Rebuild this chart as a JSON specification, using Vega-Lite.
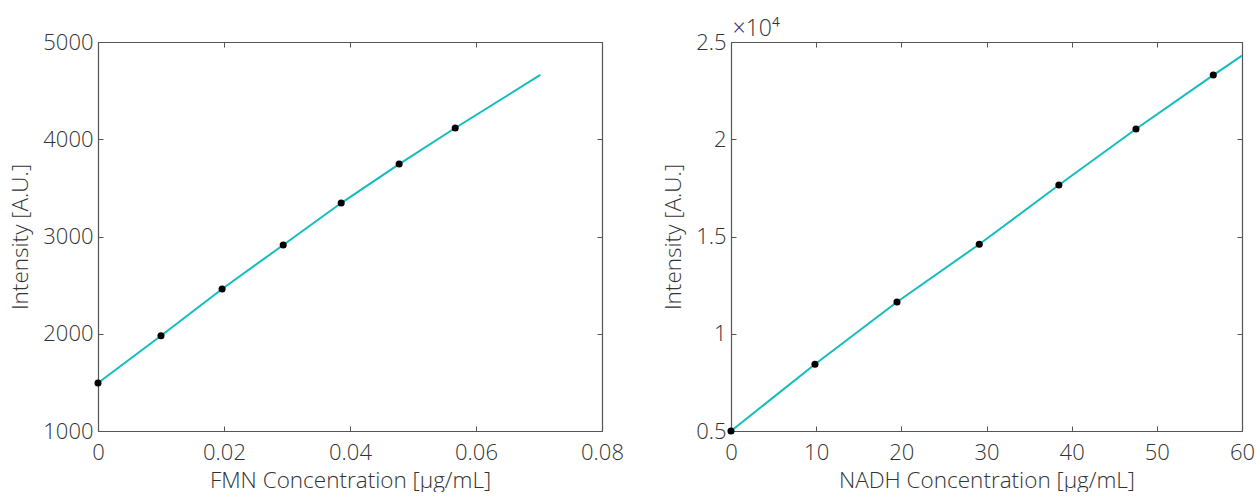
{
  "$schema": "https://vega.github.io/schema/vega-lite/v6.json",
  "padding": {"left": 9, "top": 17, "right": 0, "bottom": 0},
  "bounds": "flush",
  "spacing": 129,
  "background": "white",
  "datasets": {
    "fmn": [
      {"c": 0, "i": 1494},
      {"c": 0.0100, "i": 1980},
      {"c": 0.0197, "i": 2460},
      {"c": 0.0294, "i": 2913},
      {"c": 0.0386, "i": 3344},
      {"c": 0.0478, "i": 3745},
      {"c": 0.0567, "i": 4116}
    ],
    "fmnFit": [
      {"c": 0, "i": 1494},
      {"c": 0.0100, "i": 1980},
      {"c": 0.0197, "i": 2460},
      {"c": 0.0294, "i": 2913},
      {"c": 0.0386, "i": 3344},
      {"c": 0.0478, "i": 3745},
      {"c": 0.0567, "i": 4116},
      {"c": 0.0702, "i": 4661}
    ],
    "nadh": [
      {"c": 0, "i": 5000},
      {"c": 9.86, "i": 8430},
      {"c": 19.49, "i": 11630},
      {"c": 29.15, "i": 14600},
      {"c": 38.5, "i": 17650},
      {"c": 47.55, "i": 20530},
      {"c": 56.63, "i": 23300}
    ],
    "nadhFit": [
      {"c": 0, "i": 5000},
      {"c": 9.86, "i": 8430},
      {"c": 19.49, "i": 11630},
      {"c": 29.15, "i": 14600},
      {"c": 38.5, "i": 17650},
      {"c": 47.55, "i": 20530},
      {"c": 56.63, "i": 23300},
      {"c": 60, "i": 24300}
    ]
  },
  "hconcat": [
    {
      "width": 504,
      "height": 389,
      "layer": [
        {
          "data": {"name": "fmnFit"},
          "mark": {"type": "line", "color": "#14BDBD", "strokeWidth": 2},
          "encoding": {
            "x": {"field": "c", "type": "quantitative", "scale": {"domain": [0, 0.08], "nice": false, "zero": false},
              "axis": {"orient": "bottom", "values": [0, 0.02, 0.04, 0.06, 0.08], "labelExpr": "'' + datum.value", "labelPadding": 16, "title": "FMN Concentration [µg/mL]", "titlePadding": 6}},
            "y": {"field": "i", "type": "quantitative", "scale": {"domain": [1000, 5000], "nice": false, "zero": false},
              "axis": {"orient": "left", "values": [1000, 2000, 3000, 4000, 5000], "labelExpr": "'' + datum.value", "labelPadding": 10, "title": "Intensity [A.U.]", "titlePadding": 10}}
          }
        },
        {
          "data": {"name": "fmn"},
          "mark": {"type": "point", "filled": true, "color": "black", "size": 50, "opacity": 1},
          "encoding": {
            "x": {"field": "c", "type": "quantitative", "axis": {"orient": "top", "values": [0, 0.02, 0.04, 0.06, 0.08], "labels": false, "title": null}},
            "y": {"field": "i", "type": "quantitative", "axis": {"orient": "right", "values": [1000, 2000, 3000, 4000, 5000], "labels": false, "title": null}}
          }
        }
      ],
      "resolve": {"axis": {"x": "independent", "y": "independent"}}
    },
    {
      "width": 511,
      "height": 389,
      "layer": [
        {
          "data": {"name": "nadhFit"},
          "mark": {"type": "line", "color": "#14BDBD", "strokeWidth": 2},
          "encoding": {
            "x": {"field": "c", "type": "quantitative", "scale": {"domain": [0, 60], "nice": false, "zero": false},
              "axis": {"orient": "bottom", "values": [0, 10, 20, 30, 40, 50, 60], "labelPadding": 16, "title": "NADH Concentration [µg/mL]", "titlePadding": 6}},
            "y": {"field": "i", "type": "quantitative", "scale": {"domain": [5000, 25000], "nice": false, "zero": false},
              "axis": {"orient": "left", "values": [5000, 10000, 15000, 20000, 25000], "labelExpr": "'' + datum.value / 10000", "labelPadding": 10, "title": "Intensity [A.U.]", "titlePadding": 10}}
          }
        },
        {
          "data": {"name": "nadh"},
          "mark": {"type": "point", "filled": true, "color": "black", "size": 50, "opacity": 1},
          "encoding": {
            "x": {"field": "c", "type": "quantitative", "axis": {"orient": "top", "values": [0, 10, 20, 30, 40, 50, 60], "labels": false, "title": "×10⁴", "titleFontSize": 23, "titleAnchor": "start", "titleAlign": "left", "titleBaseline": "alphabetic", "titleX": 1, "titleY": -7}},
            "y": {"field": "i", "type": "quantitative", "axis": {"orient": "right", "values": [5000, 10000, 15000, 20000, 25000], "labels": false, "title": null}}
          }
        }
      ],
      "resolve": {"axis": {"x": "independent", "y": "independent"}}
    }
  ],
  "config": {
    "view": {"stroke": null},
    "axis": {
      "grid": false,
      "domainColor": "#555555",
      "domainWidth": 1.2,
      "tickColor": "#555555",
      "tickSize": -5,
      "tickWidth": 1,
      "labelFont": "Open Sans",
      "labelFontSize": 22,
      "labelFontWeight": 300,
      "labelColor": "#333333",
      "labelFlush": false,
      "labelOverlap": false,
      "titleFont": "Open Sans",
      "titleFontSize": 22.5,
      "titleFontWeight": 300,
      "titleColor": "#333333"
    }
  }
}
